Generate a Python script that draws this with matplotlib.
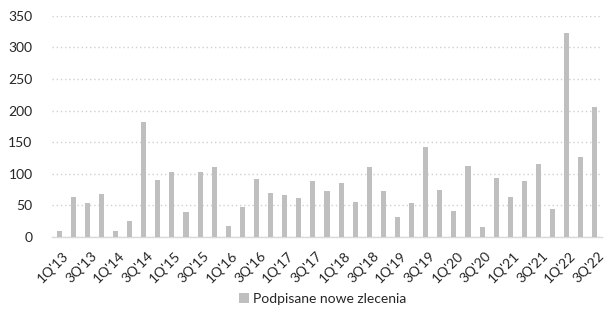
import numpy as np
import matplotlib.pyplot as plt
import matplotlib.transforms as mtransforms

plt.rcParams['font.family'] = ['Lato', 'DejaVu Sans']

# quarters 1Q'13 .. 3Q'22
quarters = [f"{q}Q'{y:02d}" for y in range(13, 23) for q in range(1, 5)][:39]
orders = [10, 63, 53, 68, 9, 25, 182, 90, 103, 39,
          103, 110, 18, 47, 92, 70, 67, 62, 88, 73,
          86, 55, 110, 73, 32, 53, 142, 75, 41, 112,
          16, 93, 64, 88, 116, 44, 323, 126, 206]
series_name = 'Podpisane nowe zlecenia'

fig = plt.figure(figsize=(6.09, 3.12), dpi=100)
ax = fig.add_axes([0.0854, 0.2404, 0.9031, 0.7093])

x = np.arange(len(quarters))
ax.bar(x, orders, width=0.36, color='#BFBFBF', label=series_name, zorder=3)

ax.set_xlim(-0.5, len(quarters) - 0.5)
ax.set_ylim(0, 350)
ax.set_yticks(range(0, 351, 50))
ax.yaxis.grid(True, linestyle=(0, (1, 2)), color='#D0D0D0', linewidth=1, zorder=0)

ax.set_xticks(x[::2])
ax.set_xticklabels(quarters[::2], rotation=45, ha='right', va='top',
                   rotation_mode='anchor', fontsize=10, color='#262626')
ax.tick_params(axis='y', labelsize=10, labelcolor='#262626', length=0, pad=14)
ax.tick_params(axis='x', length=0, pad=9)

# nudge the rotated labels a little to the right, like the original
shift = mtransforms.ScaledTranslation(3 / 100, 0, fig.dpi_scale_trans)
for lbl in ax.get_xticklabels():
    lbl.set_transform(lbl.get_transform() + shift)

for s in ['top', 'right', 'left']:
    ax.spines[s].set_visible(False)
ax.spines['bottom'].set_color('#D9D9D9')
ax.spines['bottom'].set_linewidth(1)

fig.legend(loc='center', bbox_to_anchor=(0.53, 0.042), frameon=False,
           fontsize=10, handlelength=0.7, handleheight=0.7, handletextpad=0.3,
           labelcolor='#262626')

fig.savefig('out.png', dpi=100)
